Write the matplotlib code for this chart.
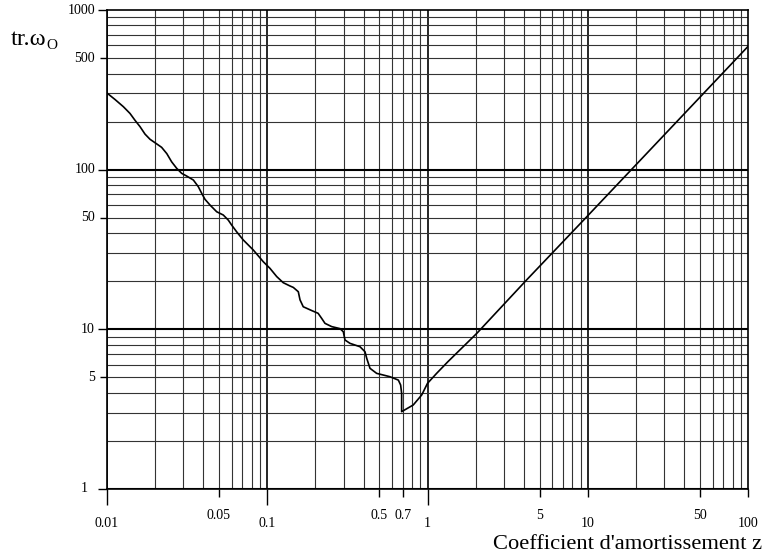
import matplotlib
matplotlib.use("Agg")
import matplotlib.pyplot as plt
import numpy as np

# ---- data ----
z = [0.0100, 0.01127, 0.0127, 0.01397, 0.0150, 0.01613, 0.01733, 0.01862,
     0.0205, 0.0220, 0.0237, 0.0254, 0.0273, 0.02935, 0.03153, 0.0347,
     0.03726, 0.0391, 0.0410, 0.0441, 0.0485, 0.0533, 0.0573, 0.0601,
     0.0646, 0.071, 0.082, 0.0947, 0.1042, 0.1148, 0.126, 0.1387, 0.1457,
     0.1565, 0.1604, 0.168, 0.19, 0.208, 0.219, 0.2296, 0.2528, 0.285,
     0.2986, 0.306, 0.3287, 0.3796, 0.4076, 0.418, 0.438, 0.482, 0.583,
     0.658, 0.68, 0.69, 0.69, 0.815, 0.92, 1.0, 1.14, 1.34, 2.03, 4.15,
     9.84, 100.0]
tr_w0 = [303, 275, 248, 225, 204, 186, 167, 155,
         145, 138, 126, 112, 102, 94.8, 91.2, 86.1,
         78.2, 71.1, 65.2, 60.0, 54.5, 52.0, 48.3, 45.0,
         40.8, 36.3, 31.4, 26.5, 24.1, 21.4, 19.6, 18.7, 18.3,
         17.2, 15.3, 13.85, 13.1, 12.6, 11.7, 10.9, 10.4, 10.1,
         9.66, 8.57, 8.17, 7.78, 7.24, 6.58, 5.7, 5.3, 5.05,
         4.81, 4.48, 3.97, 3.05, 3.36, 3.88, 4.59, 5.3, 6.27, 9.44, 20.4,
         50.7, 594]

x_long_ticks = [0.01, 0.1, 1]
x_short_ticks = [0.05, 0.5, 0.7, 5, 10, 50, 100]
x_labels_low = ["0.01", "0.1", "1", "10", "100"]
x_labels_low_pos = [0.01, 0.1, 1, 10, 100]
x_labels_high = ["0.05", "0.5", "0.7", "5", "50"]
x_labels_high_pos = [0.05, 0.5, 0.7, 5, 50]
y_major_ticks = [1, 10, 100, 1000]
y_minor_ticks = [5, 50, 500]
y_labels = ["1", "5", "10", "50", "100", "500", "1000"]
y_label_pos = [1, 5, 10, 50, 100, 500, 1000]

xlabel = "Coefficient d'amortissement z"

serif = ["Liberation Serif", "DejaVu Serif"]
plt.rcParams['font.family'] = serif

W, H = 766, 557
fig = plt.figure(figsize=(W / 100, H / 100), dpi=100)
L, R, T, B = 106.7, 748.3, 10, 489
ax = fig.add_axes([L / W, 1 - B / H, (R - L) / W, (B - T) / H])
ax.set_xscale('log')
ax.set_yscale('log')
ax.set_xlim(0.01, 100)
ax.set_ylim(1, 1000)

# grid
for d in [0.01, 0.1, 1, 10]:
    for k in range(1, 10):
        v = d * k
        if k == 1:
            ax.axvline(v, color='black', lw=1.2, zorder=1)
        else:
            ax.axvline(v, color='#333333', lw=0.8, zorder=1)
for d in [1, 10, 100]:
    for k in range(1, 10):
        v = d * k
        if k == 1:
            ax.axhline(v, color='black', lw=1.5, zorder=1)
        else:
            ax.axhline(v, color='#333333', lw=0.8, zorder=1)

ax.plot(z, tr_w0, color='black', lw=1.2, zorder=3,
        solid_joinstyle='round', solid_capstyle='round')

for s in ax.spines.values():
    s.set_linewidth(1.2)
    s.set_color('black')

ax.set_xticks(x_long_ticks)
ax.set_xticks(x_short_ticks, minor=True)
ax.set_yticks(y_major_ticks)
ax.set_yticks(y_minor_ticks, minor=True)
ax.set_xticklabels([])
ax.set_xticklabels([], minor=True)
ax.set_yticklabels([])
ax.set_yticklabels([], minor=True)
ax.tick_params(axis='x', which='major', direction='out', length=11.5, width=1.0)
ax.tick_params(axis='x', which='minor', direction='out', length=5.8, width=1.0)
ax.tick_params(axis='y', which='major', direction='out', length=6.5, width=1.0)
ax.tick_params(axis='y', which='minor', direction='out', length=5.0, width=1.0)

for lab, p in zip(x_labels_low, x_labels_low_pos):
    ax.annotate(lab, xy=(p, 0), xycoords=('data', 'axes fraction'),
                xytext=(0, -27.4), textcoords='offset points',
                ha='center', va='baseline', fontsize=10)
for lab, p in zip(x_labels_high, x_labels_high_pos):
    ax.annotate(lab, xy=(p, 0), xycoords=('data', 'axes fraction'),
                xytext=(0, -21.6), textcoords='offset points',
                ha='center', va='baseline', fontsize=10)
for lab, p in zip(y_labels, y_label_pos):
    off = -13.5 if lab == "1" else -8.4
    ax.annotate(lab, xy=(0, p), xycoords=('axes fraction', 'data'),
                xytext=(off, 0), textcoords='offset points',
                ha='right', va='center', fontsize=10)

fig.text(762 / W, 1 - 549 / H, xlabel, ha='right', va='baseline', fontsize=16.2)
fig.text(11 / W, 1 - 45 / H, "tr.ω", ha='left', va='baseline', fontsize=17.5)
fig.text(46.5 / W, 1 - 49 / H, "O", ha='left', va='baseline', fontsize=11)

fig.savefig("out.png", dpi=100)
